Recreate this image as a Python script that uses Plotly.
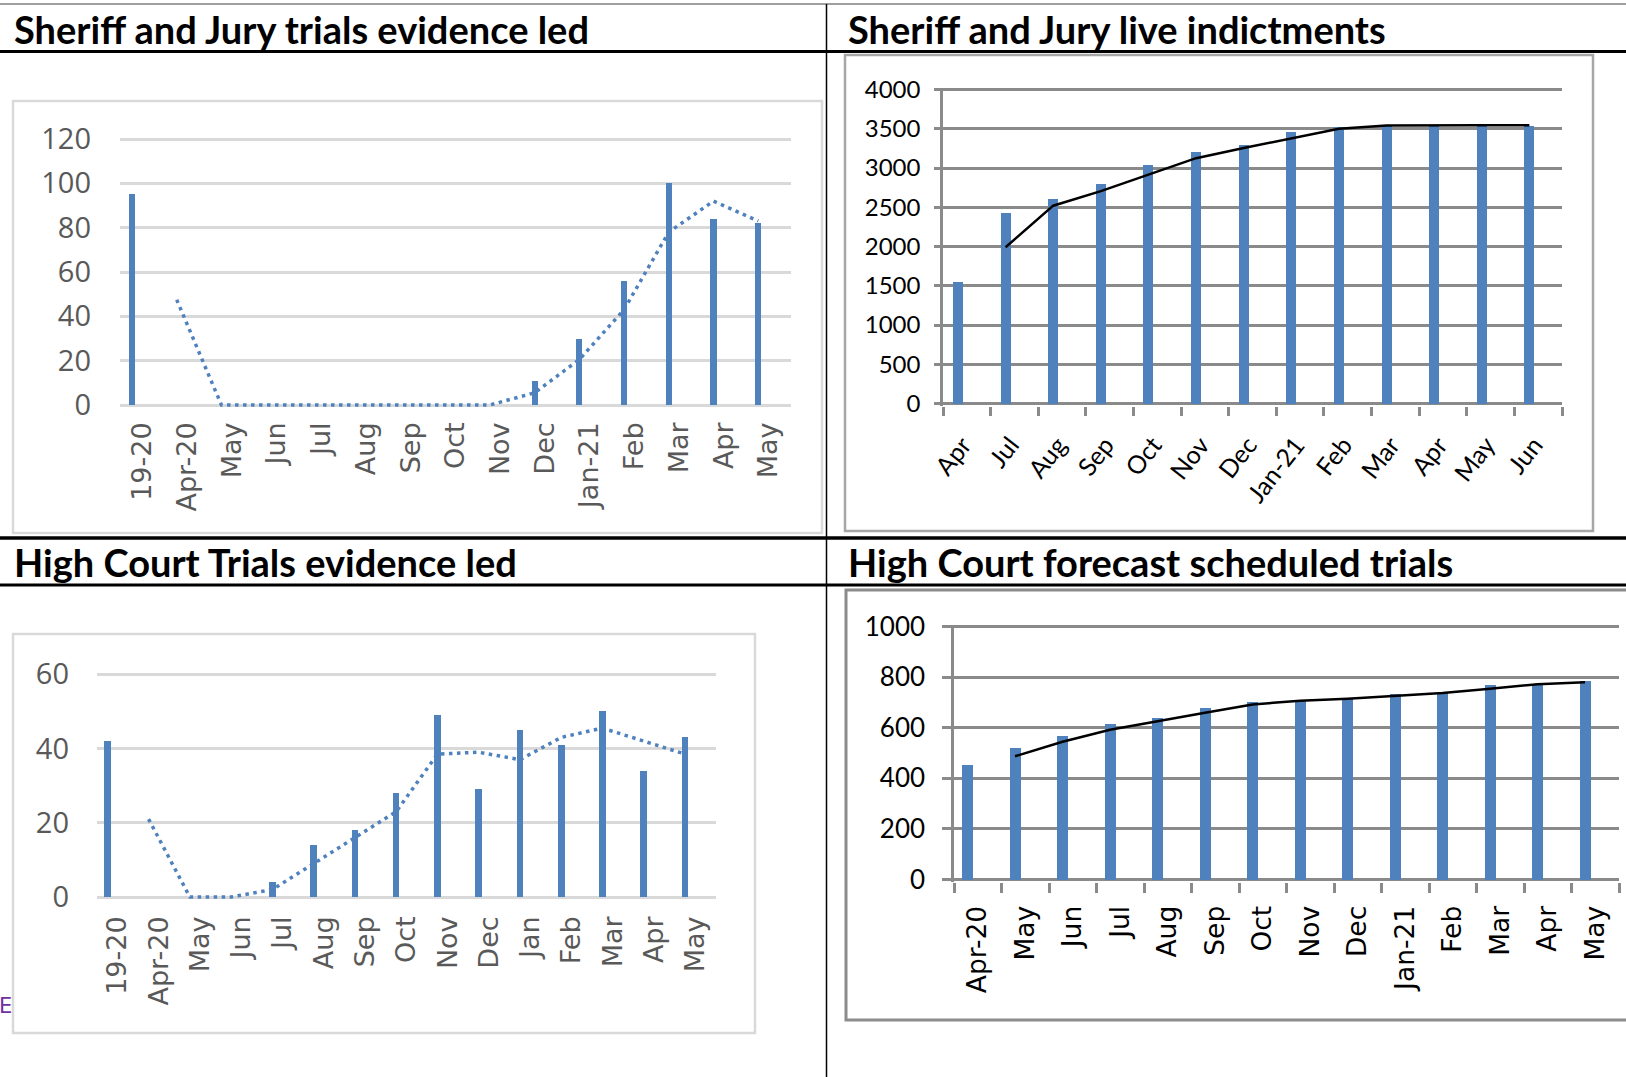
import plotly.graph_objects as go

W, H = 1626, 1077

# ---------------- data ----------------
sj_trial_labels = ["19-20", "Apr-20", "May", "Jun", "Jul", "Aug", "Sep", "Oct",
                   "Nov", "Dec", "Jan-21", "Feb", "Mar", "Apr", "May"]
sj_trial_values = [95, 0, 0, 0, 0, 0, 0, 0, 0, 11, 30, 56, 100, 84, 82]
sj_trial_trend = [None, 47.5, 0, 0, 0, 0, 0, 0, 0, 5.5, 20.5, 43, 78, 92, 83]

sj_indict_labels = ["Apr", "Jul", "Aug", "Sep", "Oct", "Nov", "Dec", "Jan-21",
                    "Feb", "Mar", "Apr", "May", "Jun"]
sj_indict_values = [1550, 2430, 2610, 2800, 3040, 3210, 3300, 3460, 3535, 3545, 3545, 3545, 3545]
sj_indict_trend = [None, 1990, 2520, 2705, 2920, 3125, 3255, 3380, 3500, 3540, 3545, 3545, 3545]

hc_trial_labels = ["19-20", "Apr-20", "May", "Jun", "Jul", "Aug", "Sep", "Oct",
                   "Nov", "Dec", "Jan", "Feb", "Mar", "Apr", "May"]
hc_trial_values = [42, 0, 0, 0, 4, 14, 18, 28, 49, 29, 45, 41, 50, 34, 43]
hc_trial_trend = [None, 21, 0, 0, 2, 9, 16, 23, 38.5, 39, 37, 43, 45.5, 42, 38.5]

hc_sched_labels = ["Apr-20", "May", "Jun", "Jul", "Aug", "Sep", "Oct", "Nov",
                   "Dec", "Jan-21", "Feb", "Mar", "Apr", "May"]
hc_sched_values = [455, 520, 570, 615, 640, 680, 705, 710, 720, 735, 740, 770, 775, 785]
hc_sched_trend = [None, 487.5, 545, 592.5, 627.5, 660, 692.5, 707.5, 715, 727.5, 737.5, 755, 772.5, 780]

titles = ["Sheriff and Jury trials evidence led", "Sheriff and Jury live indictments",
          "High Court Trials evidence led", "High Court forecast scheduled trials"]

BLUE = "#4F81BD"
LIGHT_GRID = "#D9D9D9"
DARK_GRID = "#8A8A8A"
GRAY_TXT = "#595959"


def xdom(a, b):
    return [a / W, b / W]


def yfit(top_px, bottom_px, vmin, vmax, pad=2):
    """domain + range so that vmin sits at bottom_px and vmax at top_px"""
    upp = (vmax - vmin) / (bottom_px - top_px)
    dom = [1 - (bottom_px + pad) / H, 1 - (top_px - pad) / H]
    rng = [vmin - pad * upp, vmax + pad * upp]
    return dom, rng


fig = go.Figure()


def add_chart(k, labels, values, trend, bw, boff, line_style):
    n = len(labels)
    xs = list(range(n))
    centre = boff + bw / 2
    fig.add_trace(go.Bar(x=xs, y=values, width=bw, offset=boff, marker_color=BLUE,
                         marker_line_width=0, xaxis="x%d" % k, yaxis="y%d" % k,
                         showlegend=False, hoverinfo="skip"))
    fig.add_trace(go.Scatter(x=[i + centre for i in xs], y=trend, mode="lines",
                             line=line_style, connectgaps=False,
                             xaxis="x%d" % k, yaxis="y%d" % k,
                             showlegend=False, hoverinfo="skip"))


dotted = dict(color=BLUE, width=3.5, dash="3.5px,4.5px")
add_chart(1, sj_trial_labels, sj_trial_values, sj_trial_trend, 0.135, -0.30, dotted)
add_chart(2, sj_indict_labels, sj_indict_values, sj_indict_trend, 0.21, -0.29,
          dict(color="black", width=2.5))
add_chart(3, hc_trial_labels, hc_trial_values, hc_trial_trend, 0.16, -0.33, dotted)
add_chart(4, hc_sched_labels, hc_sched_values, hc_sched_trend, 0.23, -0.33,
          dict(color="black", width=2.5))

# ---------------- axes ----------------
d1, r1 = yfit(139, 405, 0, 120)
d2, r2 = yfit(89.5, 403.5, 0, 4000)
d3, r3 = yfit(674.3, 897, 0, 60)
d4, r4 = yfit(626.7, 879.5, 0, 1000)

light_x = dict(tickangle=-90, ticks="", showgrid=False, zeroline=False, showline=False,
               tickmode="array", fixedrange=True, automargin=False)
light_y = dict(showgrid=True, gridcolor=LIGHT_GRID, gridwidth=3, zeroline=False,
               showline=False, ticks="", tickmode="array", fixedrange=True,
               automargin=False,
               tickfont=dict(family="Open Sans", size=29, color=GRAY_TXT))

fig.update_layout(
    xaxis=dict(domain=xdom(120, 791), range=[-0.5, 14.5], anchor="y",
               tickvals=list(range(15)), ticktext=sj_trial_labels,
               tickfont=dict(family="DejaVu Sans", size=27, color=GRAY_TXT),
               ticklabelstandoff=9, **light_x),
    yaxis=dict(domain=d1, range=r1, anchor="x", tickvals=[0, 20, 40, 60, 80, 100, 120],
               ticklabelstandoff=28, **light_y),
    xaxis3=dict(domain=xdom(97, 716), range=[-0.5, 14.5], anchor="y3",
                tickvals=list(range(15)), ticktext=hc_trial_labels,
                tickfont=dict(family="DejaVu Sans", size=27, color=GRAY_TXT),
                ticklabelstandoff=11, **light_x),
    yaxis3=dict(domain=d3, range=r3, anchor="x3", tickvals=[0, 20, 40, 60],
                ticklabelstandoff=27, **light_y),
    xaxis2=dict(domain=xdom(943, 1562), range=[-0.5, 12.5], anchor="y2",
                tickmode="array", tickvals=list(range(13)), ticktext=sj_indict_labels,
                tickangle=-52, ticks="", showgrid=False, zeroline=False, showline=False,
                tickfont=dict(family="Lato", size=25, color="black"),
                ticklabelstandoff=19, ticklabelshift=-4, fixedrange=True,
                automargin=False,
                minor=dict(tickmode="array", tickvals=[i - 0.5 for i in range(14)],
                           ticks="outside", ticklen=9, tickwidth=2.5,
                           tickcolor=DARK_GRID, showgrid=False)),
    yaxis2=dict(domain=d2, range=r2, anchor="x2", tickmode="array",
                tickvals=list(range(0, 4001, 500)), showgrid=True, gridcolor=DARK_GRID,
                gridwidth=2.5, zeroline=True, zerolinecolor=DARK_GRID, zerolinewidth=2.5,
                showline=True, linecolor=DARK_GRID, linewidth=2.5,
                ticks="outside", ticklen=6, tickwidth=2.5, tickcolor=DARK_GRID,
                tickfont=dict(family="Lato", size=24, color="black"),
                ticklabelstandoff=9, fixedrange=True, automargin=False),
    xaxis4=dict(domain=xdom(954, 1619), range=[-0.5, 13.5], anchor="y4",
                tickmode="array", tickvals=list(range(14)), ticktext=hc_sched_labels,
                tickangle=-90, ticks="", showgrid=False, zeroline=False, showline=False,
                tickfont=dict(family="DejaVu Sans", size=26.5, color="black"),
                ticklabelstandoff=18, fixedrange=True, automargin=False,
                minor=dict(tickmode="array", tickvals=[i - 0.5 for i in range(15)],
                           ticks="outside", ticklen=10, tickwidth=2.5,
                           tickcolor=DARK_GRID, showgrid=False)),
    yaxis4=dict(domain=d4, range=r4, anchor="x4", tickmode="array",
                tickvals=list(range(0, 1001, 200)), showgrid=True, gridcolor=DARK_GRID,
                gridwidth=2.5, zeroline=True, zerolinecolor=DARK_GRID, zerolinewidth=2.5,
                showline=True, linecolor=DARK_GRID, linewidth=2.5,
                ticks="outside", ticklen=9, tickwidth=2.5, tickcolor=DARK_GRID,
                tickfont=dict(family="Lato", size=26, color="black"),
                ticklabelstandoff=12, fixedrange=True, automargin=False),
)


# ---------------- table / frames ----------------
def px_rect(x0, y0, x1, y1, color, width):
    return dict(type="rect", xref="paper", yref="paper", x0=x0 / W, x1=x1 / W,
                y0=1 - y1 / H, y1=1 - y0 / H, line=dict(color=color, width=width),
                fillcolor="rgba(0,0,0,0)", layer="below")


def px_line(x0, y0, x1, y1, color, width):
    return dict(type="line", xref="paper", yref="paper", x0=x0 / W, x1=x1 / W,
                y0=1 - y0 / H, y1=1 - y1 / H, line=dict(color=color, width=width))


shapes = [
    px_rect(13, 101, 822, 533, LIGHT_GRID, 2.5),
    px_rect(845, 55, 1593, 531, "#A6A6A6", 2.5),
    px_rect(13, 634, 755, 1033, LIGHT_GRID, 2.5),
    px_rect(846, 590, 1660, 1020, "#8C8C8C", 3),
    px_line(0, 4, W, 4, "#7F7F7F", 1.5),
    px_line(0, 51.5, W, 51.5, "black", 3),
    px_line(0, 538, W, 538, "black", 3.5),
    px_line(0, 585, W, 585, "black", 3),
    px_line(826.5, 4, 826.5, H, "black", 1.5),
]

title_pos = [(12, 29), (846, 29), (12, 562), (846, 562)]
annotations = []
for t, (tx, ty) in zip(titles, title_pos):
    annotations.append(dict(text="<b>%s</b>" % t, x=tx / W, y=1 - ty / H, xref="paper",
                            yref="paper", xanchor="left", yanchor="middle",
                            showarrow=False,
                            font=dict(family="Lato", size=38, color="black")))
annotations.append(dict(text="E", x=-3 / W, y=1 - 1006 / H, xref="paper", yref="paper",
                        xanchor="left", yanchor="middle", showarrow=False,
                        font=dict(family="DejaVu Sans", size=21, color="#7030A0")))

fig.update_layout(width=W, height=H,
                  margin=dict(l=0, r=0, t=0, b=0, pad=0, autoexpand=False),
                  paper_bgcolor="white", plot_bgcolor="white", bargap=0,
                  shapes=shapes, annotations=annotations, showlegend=False)

fig.write_html("out.html", config={"displayModeBar": False},
               post_script="document.body.style.margin='0px';"
                           "document.body.style.overflow='hidden';")
